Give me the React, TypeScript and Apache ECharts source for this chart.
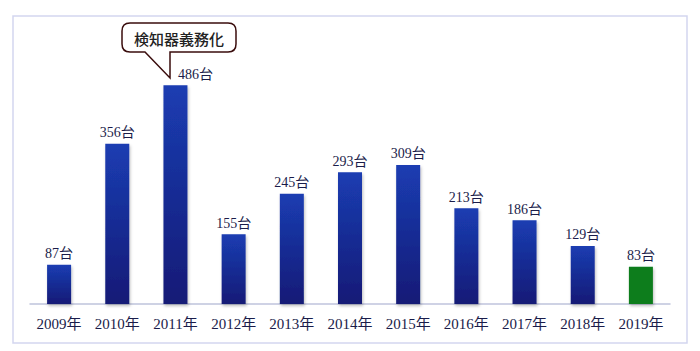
import React, { useEffect, useRef } from "react";
import * as echarts from "echarts";

const categories = ["2009年", "2010年", "2011年", "2012年", "2013年", "2014年", "2015年", "2016年", "2017年", "2018年", "2019年"];
const values = [87, 356, 486, 155, 245, 293, 309, 213, 186, 129, 83];
const unit = "台";
const calloutText = "検知器義務化";
const calloutIndex = 2;

const blueGrad = () =>
  new echarts.graphic.LinearGradient(0, 0, 0, 1, [
    { offset: 0, color: "#1b3db2" },
    { offset: 1, color: "#131a76" },
  ]);

export default function App() {
  const ref = useRef<HTMLDivElement>(null);
  useEffect(() => {
    if (!ref.current) return;
    const d =
      "M130,23 H228 Q236,23 236,31 V44 Q236,52 228,52 H170 L170,78 L145,52 H130 Q122,52 122,44 V31 Q122,23 130,23 Z";
    echarts.graphic.registerShape("callout", echarts.graphic.extendPath(d, {}));
    const chart = echarts.init(ref.current, null, { renderer: "svg" });
    const last = values.length - 1;
    chart.setOption({
      animation: false,
      backgroundColor: "#ffffff",
      grid: { left: 30, right: 30, top: 34, bottom: 47 },
      xAxis: {
        type: "category",
        data: categories,
        axisTick: { show: false },
        axisLine: { lineStyle: { color: "#bfc3dc", width: 1.5 } },
        axisLabel: {
          interval: 0,
          margin: 12,
          fontSize: 15,
          color: "#1a1c4a",
          fontFamily: "'Liberation Serif', 'Noto Sans CJK JP', serif",
        },
      },
      yAxis: { type: "value", min: 0, max: 600, show: false, splitLine: { show: false } },
      series: [
        {
          type: "bar",
          barWidth: 24,
          data: values.map((v, i) => ({
            value: v,
            itemStyle: {
              color: i === last ? "#0a7d1e" : blueGrad(),
            },
            label: i === calloutIndex ? { offset: [20, 0] } : undefined,
          })),
          itemStyle: {
            shadowBlur: 3,
            shadowColor: "rgba(0,0,0,0.25)",
            shadowOffsetX: 1,
            shadowOffsetY: 2,
          },
          label: {
            show: true,
            position: "top",
            distance: 4,
            fontSize: 14,
            color: "#1a1c4a",
            fontFamily: "'Liberation Serif', 'Noto Sans CJK JP', serif",
            formatter: (p: any) => p.value + unit,
          },
        },
      ],
      graphic: [
        {
          type: "rect",
          shape: { x: 13, y: 16, width: 674, height: 327 },
          style: { fill: "none", stroke: "#d3d6f0", lineWidth: 1.5 },
          silent: true,
        },
        {
          type: "callout",
          x: 0,
          y: 0,
          style: { fill: "#ffffff", stroke: "#3a0d0d", lineWidth: 1.5 },
        },
        {
          type: "text",
          x: 179,
          y: 38,
          style: {
            text: calloutText,
            fill: "#222222",
            font: "500 15px 'Noto Sans CJK JP', sans-serif",
            align: "center",
            verticalAlign: "middle",
          },
        },
      ],
    });
    return () => chart.dispose();
  }, []);
  return (
    <div
      ref={ref}
      style={{ position: "fixed", left: 0, top: 0, width: 700, height: 351 }}
    />
  );
}
